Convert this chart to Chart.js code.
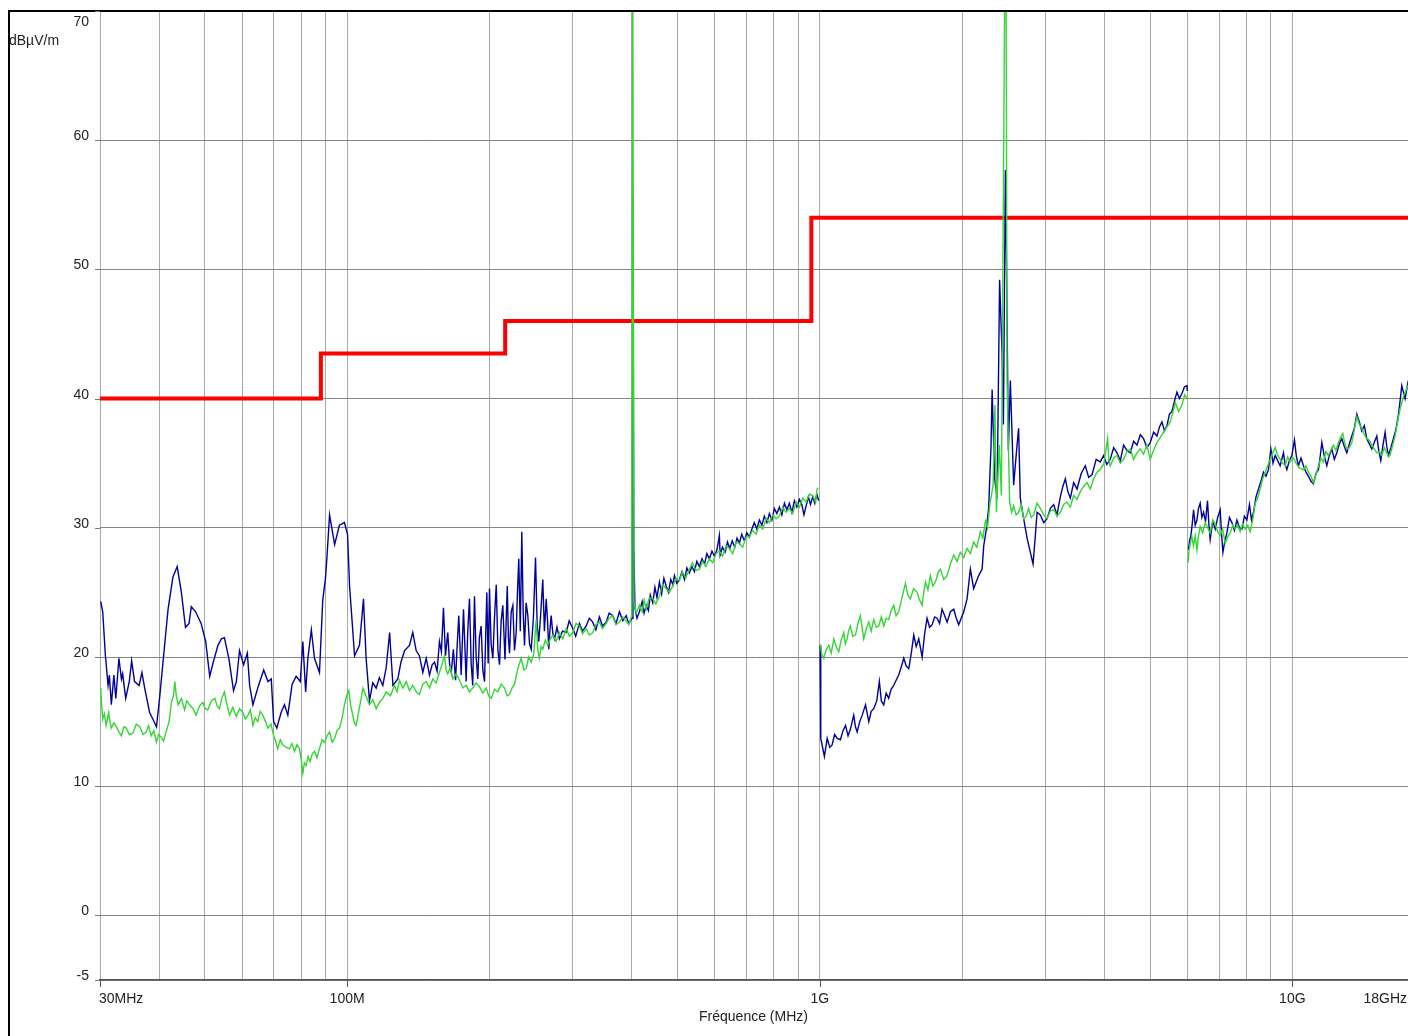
<!DOCTYPE html>
<html>
<head>
<meta charset="utf-8">
<title>Emission rayonnée</title>
<script src="https://cdn.jsdelivr.net/npm/chart.js@4.4.1/dist/chart.umd.min.js"></script>
<style>
  html, body { margin: 0; padding: 0; background: #fff; overflow: hidden; }
  #wrap { width: 1416px; height: 1036px; }
</style>
</head>
<body>
<div id="wrap"><canvas id="emiChart" width="1416" height="1036"></canvas></div>
<script>
// axes
const yTicks = [-5, 0, 10, 20, 30, 40, 50, 60, 70];
const xGrid = [30, 40, 50, 60, 70, 80, 90, 100, 200, 300, 400, 500, 600, 700, 800, 900,
  1000, 2000, 3000, 4000, 5000, 6000, 7000, 8000, 9000, 10000];
const xLabelValues = [30, 100, 1000, 10000, 18000];
const xLabelTexts = ["30MHz", "100M", "1G", "10G", "18GHz"];

// limite (dBµV/m)
const limitFreq = [30, 88, 216, 960, 18000];
const limitDb = [40, 43.5, 46, 54, 54];

// trace bleue, 30 MHz - 1 GHz
const blueFreqA = [30.1,30.4,30.8,31.2,31.4,31.7,32.1,32.4,32.9,33.3,
  33.5,34.0,34.6,35.0,35.5,36.3,36.8,37.3,38.2,38.8,
  39.5,40.1,40.9,41.8,42.8,43.7,44.6,45.5,46.3,46.8,
  47.8,49.1,50.2,51.2,52.0,53.3,54.2,55.0,56.2,57.5,
  58.3,59.2,60.4,61.5,62.2,63.2,64.7,66.6,68.0,69.1,
  69.9,71.0,72.5,73.7,74.9,76.5,78.0,79.6,80.6,81.7,
  82.6,84.0,85.3,87.4,88.8,90.0,90.6,91.8,94.1,96.3,
  98.7,100.2,101.2,103.7,106.2,108.3,109.7,111.5,113.3,115.2,
  117.0,119.0,121.0,123.0,125.0,128.0,130.0,132.3,135.5,137.7,
  140.0,142.2,144.6,147.0,149.4,151.3,153.1,155.0,156.8,158.3,
  159.9,161.5,163.3,164.7,166.1,167.8,169.6,171.0,172.3,174.3,
  176.3,178.6,180.0,181.5,183.0,184.4,186.0,187.5,189.0,190.5,
  192.1,193.7,195.3,197.5,198.8,200.1,201.7,203.4,205.0,206.8,
  208.5,210.1,211.8,213.5,215.8,218.2,219.4,220.6,222.4,224.2,
  226.0,227.9,229.3,230.8,232.5,234.2,235.8,237.3,239.2,241.2,
  243.2,245.2,247.8,250.4,252.4,254.4,257.0,259.4,261.5,263.8,
  265.5,267.1,268.5,270.2,272.5,274.7,278.0,281.3,285.5,290.8,
  295.0,300.3,304.5,310.1,314.8,320.5,325.5,330.9,336.0,341.8,
  347.0,353.3,358.5,364.8,370.5,376.9,383.0,389.4,394.0,399.0,
  401.0,402.5,404.1,406.5,410.5,415.4,421.0,425.0,429.3,434.0,
  438.0,443.3,448.0,452.5,457.9,463.0,468.0,473.2,478.5,484.0,
  489.0,492.7,498.5,504.7,511.0,517.5,523.5,529.9,536.5,543.0,
  549.5,556.4,563.5,570.5,577.0,584.1,591.5,598.5,606.0,613.3,
  615.5,622.5,630.5,638.0,645.0,653.0,661.0,668.5,676.0,684.0,
  692.5,701.0,709.8,718.5,727.0,736.0,745.2,754.5,763.5,773.0,
  782.4,792.0,801.5,811.5,821.5,831.5,842.0,852.0,862.5,873.0,
  884.0,894.5,905.6,916.5,926.0,935.9,946.0,956.0,966.4,976.5,
  986.0,995];
const blueDbA = [24.3,23.5,20.1,17.8,18.6,16.3,18.6,16.8,19.9,18.3,
  18.7,16.8,18.1,19.7,18.1,17.8,18.8,17.6,15.7,15.2,
  14.6,16.8,20.1,23.7,26.2,27.0,25.0,22.3,22.6,23.9,
  23.5,22.6,21.2,18.5,19.5,20.9,21.4,21.5,19.9,17.4,
  18.1,20.5,19.4,20.3,17.8,16.3,17.6,19.0,18.1,18.3,
  15.0,14.5,15.7,16.3,15.5,17.9,18.5,18.1,21.2,17.3,
  19.9,22.1,19.9,18.8,24.4,26.1,27.6,31.0,28.7,30.2,
  30.4,29.5,25.5,20.1,20.9,24.5,19.9,16.6,18.0,17.6,
  18.4,17.8,19.2,21.9,17.8,18.3,19.6,20.5,20.9,21.9,
  20.5,20.1,18.8,19.9,18.6,19.4,19.6,18.9,21.2,20.4,
  23.8,20.1,21.9,19.5,18.8,20.6,18.2,21.0,23.2,18.6,
  23.7,18.1,22.0,24.5,19.5,17.8,24.7,20.0,18.3,21.5,
  22.4,19.0,18.1,25.0,19.5,25.3,21.0,19.9,23.0,25.6,
  20.5,19.4,22.8,24.0,19.8,25.5,21.5,20.3,23.5,24.0,
  20.5,21.9,25.0,27.6,22.0,29.7,23.5,20.9,24.2,23.2,
  21.0,20.6,23.0,27.7,22.5,21.2,23.5,26.0,22.0,24.5,
  22.8,20.6,22.0,23.2,21.8,21.4,22.3,21.4,22.0,21.9,
  22.8,22.2,21.6,22.6,22.0,22.4,23.0,22.7,22.1,23.1,
  22.4,22.7,23.4,23.2,22.6,23.5,22.8,23.2,22.6,22.9,
  23.0,55.5,28.6,23.8,23.0,23.5,24.3,23.4,24.0,23.6,
  24.8,24.2,25.4,24.6,25.8,24.9,26.1,25.5,25.0,26.0,
  25.6,26.3,25.7,26.0,26.6,26.0,26.9,26.5,27.0,26.6,
  27.4,27.0,27.6,27.2,28.0,27.6,28.2,27.8,28.3,29.4,
  27.9,28.5,28.1,28.9,28.4,29.0,28.5,29.2,28.8,29.5,
  29.0,29.6,29.3,29.9,30.4,29.9,30.6,30.2,30.9,30.4,
  31.1,30.6,31.5,31.1,31.6,31.0,31.9,31.4,31.9,31.2,
  32.1,31.6,32.2,31.8,31.0,31.7,32.4,31.8,32.4,31.9,
  32.6,32.1];

// trace verte, 30 MHz - 1 GHz
const greenFreqA = [30.1,30.25,30.4,30.65,30.9,31.1,31.3,31.5,31.7,32.1,
  32.5,32.9,33.3,33.7,34.1,34.6,35.2,35.8,36.4,37.0,
  37.6,38.0,38.5,39.0,39.5,39.9,40.4,40.9,41.4,42.0,
  42.5,42.9,43.2,43.5,43.9,44.6,45.3,45.8,46.4,47.2,
  47.9,48.7,49.5,50.1,50.7,51.6,52.5,53.1,53.7,54.3,
  55.0,55.7,56.4,57.3,58.3,59.2,60.2,60.9,61.7,62.4,
  63.2,63.9,64.7,65.5,66.3,67.2,68.0,69.0,69.9,70.6,
  71.3,72.2,73.1,74.3,75.5,76.4,77.4,78.3,79.3,80.0,
  80.6,81.2,81.9,82.7,83.5,84.4,85.3,86.3,87.4,88.5,
  89.6,90.7,91.8,93.0,94.1,95.2,96.3,97.5,98.7,99.8,
  100.8,101.8,102.8,103.6,104.5,105.8,107.1,108.0,108.8,110.1,
  111.5,113.3,115.2,117.1,119.0,121.0,123.5,126.0,127.5,129.1,
  131.2,133.4,135.5,137.7,140.0,142.2,144.6,147.0,149.4,151.8,
  154.3,156.8,158.7,160.7,162.0,163.3,165.3,167.4,170.1,172.9,
  175.7,178.6,181.5,184.4,187.4,190.5,193.7,196.9,199.3,201.8,
  205.1,208.4,211.8,215.3,218.0,220.6,223.3,226.1,227.9,229.7,
  231.6,233.5,236.4,239.3,242.2,245.2,248.2,251.2,253.2,255.2,
  257.3,259.4,262.6,265.8,269.1,272.4,276.8,281.3,286.0,290.8,
  295.5,300.3,305.0,310.1,315.0,320.5,325.5,330.9,336.0,341.8,
  347.0,353.3,358.5,364.8,370.5,376.9,383.0,389.4,394.5,400.2,
  402.1,404.5,409.0,415.4,421.0,425.0,429.3,436.0,443.3,450.0,
  457.9,465.0,473.2,480.5,488.7,496.5,504.7,512.0,520.5,529.9,
  538.0,547.0,556.4,565.0,574.5,584.1,593.5,603.0,613.3,623.0,
  633.5,643.9,654.5,665.0,676.0,687.0,698.5,709.8,721.0,733.0,
  745.2,757.5,770.0,782.4,795.5,808.5,821.5,835.0,848.5,862.5,
  876.5,891.0,905.6,920.5,935.9,951.0,966.4,980.0,987.0,993];
const greenDbA = [17.6,16.2,15.2,15.6,14.7,15.2,15.7,15.0,14.5,14.9,
  14.6,14.2,13.9,14.6,14.5,14.0,14.1,14.8,14.6,14.0,
  14.2,14.7,13.9,14.3,13.4,14.0,13.8,13.5,14.2,15.0,
  16.5,17.0,18.1,17.0,16.3,16.8,15.9,16.6,16.3,16.0,
  15.5,16.2,16.5,16.0,15.9,16.6,16.8,16.2,16.0,16.8,
  17.3,16.3,15.5,16.1,15.4,16.0,15.7,15.2,15.5,15.9,
  14.7,15.3,15.0,15.8,15.5,15.0,14.5,14.8,13.9,13.5,
  12.9,13.6,13.2,13.0,12.9,13.3,12.7,13.2,12.9,12.0,
  11.0,11.8,11.6,12.3,11.9,12.5,12.7,12.2,12.9,13.6,
  13.4,13.9,14.2,13.4,13.7,14.3,14.5,15.2,16.3,17.0,
  17.4,16.2,15.5,14.9,14.7,15.8,16.8,17.6,17.3,16.8,
  16.3,16.7,16.0,16.5,16.8,17.3,17.0,17.8,17.3,18.2,
  17.6,18.1,17.4,17.8,17.3,17.1,17.9,18.1,17.6,18.3,
  18.0,18.8,19.4,20.1,19.0,18.7,19.2,18.3,18.7,18.2,
  17.6,17.8,17.3,17.6,18.0,17.7,17.2,17.6,17.0,16.8,
  17.5,17.3,17.9,17.6,17.0,17.1,17.6,17.9,18.5,19.1,
  19.5,19.9,19.0,19.1,20.0,19.6,20.2,22.9,20.5,19.9,
  20.8,20.6,21.3,20.9,21.4,21.7,21.2,21.9,21.4,22.2,
  21.6,21.9,22.6,22.4,21.8,22.2,21.7,21.9,22.5,22.7,
  22.2,22.6,23.0,23.2,22.5,22.7,23.1,22.8,22.5,23.2,
  75,24.3,23.4,24.0,23.5,24.4,23.7,24.6,24.5,24.1,
  24.7,25.6,25.3,25.0,25.5,26.1,25.9,26.6,26.1,26.8,
  27.3,26.7,26.8,27.4,27.0,27.6,27.3,28.0,28.2,27.8,
  28.6,28.4,28.0,28.9,28.8,28.5,29.3,29.3,29.8,29.5,
  30.2,29.9,30.7,30.4,31.0,30.7,30.9,31.6,31.2,31.5,
  31.1,32.0,31.6,32.3,32.0,32.6,32.5,32.0,33.0,33.1];

// 1 GHz - 6 GHz
const blueFreqB = [1002,1005,1023,1037,1050,1062,1075,1089,1106,1120,
  1134,1148,1161,1180,1190,1200,1215,1230,1250,1270,
  1285,1301,1320,1337,1350,1366,1382,1399,1416,1434,
  1451,1469,1487,1506,1524,1543,1562,1581,1600,1620,
  1647,1667,1687,1708,1729,1750,1771,1793,1815,1838,
  1860,1890,1921,1945,1968,1992,2017,2050,2083,2117,
  2169,2206,2223,2252,2277,2304,2316,2345,2373,2402,
  2431,2447,2471,2485,2507,2531,2572,2615,2635,2657,
  2701,2746,2790,2827,2859,2883,2929,2978,3027,3076,
  3126,3177,3229,3269,3309,3350,3390,3446,3503,3575,
  3647,3707,3768,3845,3923,3987,4050,4118,4187,4256,
  4325,4395,4467,4540,4615,4691,4767,4844,4924,5004,
  5087,5170,5234,5298,5363,5428,5495,5562,5630,5699,
  5770,5840,5910,5983,5995];
const blueDbB = [20.9,13.7,12.3,13.7,13.0,13.2,14.0,13.7,13.6,14.3,
  14.7,13.9,14.4,15.5,14.6,14.2,15.0,15.5,16.3,15.0,
  15.8,16.0,16.6,18.1,16.6,16.3,17.2,16.8,17.5,17.8,
  18.2,18.6,19.2,19.9,19.3,19.1,20.3,21.7,20.8,21.4,
  20.0,21.8,23.0,22.3,22.5,23.1,23.0,22.6,23.7,23.2,
  22.7,23.5,23.7,23.0,22.5,23.0,23.5,24.5,26.8,25.3,
  26.3,26.8,28.6,29.9,31.5,36.4,40.7,33.8,32.3,49.2,
  43.5,38.0,57.7,50.0,36.0,41.4,33.3,36.4,37.7,32.3,
  30.7,29.2,28.1,27.2,29.4,31.2,31.0,30.4,30.7,31.5,
  31.8,31.0,32.4,33.2,33.8,32.8,32.3,33.5,33.0,34.2,
  34.8,33.9,34.1,35.3,35.1,35.6,34.9,35.3,36.2,35.8,
  35.2,36.4,36.0,35.8,36.7,36.4,37.2,36.9,36.2,36.6,
  37.4,37.1,37.8,38.2,37.5,37.9,38.8,39.0,39.8,40.5,
  40.0,40.4,40.9,41.0,40.6];
const greenFreqB = [1002,1010,1020,1032,1045,1058,1071,1084,1097,1110,
  1124,1133,1143,1152,1161,1175,1190,1205,1219,1229,
  1239,1255,1270,1285,1301,1317,1333,1350,1366,1382,
  1399,1416,1434,1451,1469,1493,1518,1536,1555,1580,
  1607,1627,1647,1660,1674,1694,1714,1735,1757,1778,
  1800,1830,1860,1890,1921,1952,1984,2017,2050,2083,
  2117,2150,2187,2214,2241,2265,2288,2327,2348,2365,
  2398,2423,2466,2478,2491,2522,2547,2572,2603,2635,
  2668,2701,2734,2767,2801,2836,2882,2929,2978,3027,
  3076,3126,3177,3229,3282,3336,3390,3445,3502,3559,
  3618,3677,3737,3798,3860,3923,3994,4065,4090,4118,
  4187,4256,4325,4395,4467,4540,4614,4690,4766,4845,
  4925,5004,5087,5170,5255,5340,5427,5515,5583,5652,
  5745,5840,5915,5990];
const greenDbB = [21.0,20.2,19.9,20.6,20.9,20.3,21.4,20.8,20.4,21.3,
  21.9,21.0,21.4,22.1,22.4,21.6,21.7,22.6,23.2,22.3,
  21.4,22.2,22.7,22.0,22.9,22.3,22.4,23.1,22.4,23.0,
  22.9,23.6,24.0,23.2,23.5,24.6,25.7,24.8,24.5,25.3,
  25.0,24.4,24.0,25.0,25.8,25.2,26.3,25.5,25.8,26.5,
  26.8,26.0,26.3,27.2,27.9,27.4,28.1,27.7,28.4,28.0,
  28.9,28.5,29.7,29.2,30.5,30.0,31.7,33.3,39.5,31.2,
  36.4,32.5,75,75,41.3,32.0,31.2,31.7,31.0,31.2,
  31.8,30.7,30.9,31.5,30.8,31.0,31.9,31.5,31.0,30.7,
  31.3,31.4,30.9,31.2,31.8,32.0,31.6,32.5,32.2,32.8,
  33.2,33.5,33.0,33.8,34.3,34.5,35.0,36.9,35.2,34.8,
  35.4,35.6,35.0,35.3,35.9,36.1,35.3,35.8,36.1,35.7,
  36.4,35.3,36.0,36.6,37.0,37.4,37.8,38.2,38.9,39.7,
  39.0,39.5,40.3,40.0];

// 6 GHz - 18 GHz
const blueFreqC = [6028,6060,6101,6140,6179,6230,6282,6330,6383,6435,
  6488,6550,6614,6655,6701,6785,6868,6950,7036,7083,
  7130,7200,7270,7360,7449,7540,7633,7727,7821,7917,
  8013,8114,8195,8276,8377,8478,8583,8688,8795,8901,
  9006,9100,9198,9310,9422,9577,9655,9736,9856,9976,
  10104,10200,10301,10430,10556,10685,10814,10950,11083,11220,
  11354,11450,11545,11690,11829,11975,12121,12270,12420,12570,
  12725,12880,13039,13200,13360,13525,13690,13860,14027,14200,
  14372,14550,14726,14905,15089,15235,15385,15550,15713,15840,
  15965,16160,16361,16560,16761,16900,17043,17180,17320,17572,
  18000];
const blueDbC = [28.3,29.0,29.4,30.3,31.4,30.2,30.6,31.5,31.9,30.8,
  31.2,30.5,32.1,30.4,29.1,30.5,29.9,30.8,31.4,29.5,
  28.1,29.0,29.6,30.8,30.4,29.8,30.6,30.0,29.9,30.9,
  30.6,31.8,30.6,31.2,32.4,33.0,33.6,34.3,34.0,34.5,
  36.1,35.0,35.6,35.2,34.8,35.8,34.9,34.5,35.2,35.6,
  36.8,35.5,34.8,35.4,34.8,34.3,34.0,33.6,33.4,34.2,
  34.5,35.5,36.6,35.5,34.8,35.6,36.1,35.3,35.8,36.5,
  36.9,36.3,35.8,36.5,37.1,37.7,38.8,38.2,37.5,37.9,
  36.9,36.5,36.1,36.6,37.1,36.0,35.2,36.4,37.4,36.3,
  35.6,36.2,36.9,37.6,38.7,39.8,41.0,40.5,40.0,41.3,
  41.0];
const greenFreqC = [6015,6045,6080,6130,6179,6230,6282,6330,6383,6460,
  6541,6620,6701,6785,6868,6950,7036,7120,7210,7298,
  7386,7478,7570,7662,7755,7850,7948,8045,8142,8243,
  8344,8446,8548,8655,8761,8868,8975,9086,9198,9310,
  9422,9540,9657,9775,9892,10057,10222,10390,10556,10685,
  10814,10950,11083,11220,11354,11495,11636,11778,11920,12068,
  12216,12365,12515,12650,12788,12913,13039,13200,13360,13525,
  13690,13860,14027,14200,14372,14550,14726,14905,15089,15275,
  15461,15650,15843,15970,16097,16300,16497,16700,16900,17236,
  17572,18000];
const greenDbC = [27.3,28.2,28.8,29.3,28.6,29.4,28.3,29.4,30.1,29.6,
  30.4,30.0,29.6,30.6,30.3,29.7,29.4,29.9,28.8,29.3,
  29.6,30.2,29.9,30.2,29.7,30.3,29.9,30.2,29.7,30.6,
  31.9,32.3,33.0,33.8,34.3,34.8,35.3,35.8,36.2,35.6,
  35.3,35.0,34.8,35.5,35.1,35.4,34.9,34.6,34.5,34.8,
  34.3,34.0,33.5,34.1,34.8,35.4,35.1,35.9,35.6,36.0,
  36.4,36.0,36.6,37.0,37.3,36.5,36.1,36.2,36.6,37.6,
  38.6,38.0,37.7,37.2,36.9,36.8,36.4,36.1,35.8,35.9,
  35.6,36.2,35.8,35.5,35.6,36.4,37.1,38.2,39.2,40.3,
  41.0,41.3];

// joins the bands, with a gap between them
function joinBands(bands) {
  const pts = [];
  bands.forEach(([freqs, levels], i) => {
    if (i > 0) {
      const prev = pts[pts.length - 1].x;
      pts.push({ x: Math.sqrt(prev * freqs[0]), y: null });
    }
    freqs.forEach((f, k) => pts.push({ x: f, y: levels[k] }));
  });
  return pts;
}

const textFont = '14px "Liberation Sans", Arial, sans-serif';
const textColor = "#222";

const axisText = {
  id: "axisText",
  afterDraw(chart) {
    const { ctx, chartArea, scales } = chart;
    const x = scales.x, y = scales.y;
    ctx.save();

    // cadre
    ctx.strokeStyle = "#000";
    ctx.lineWidth = 2;
    ctx.beginPath();
    ctx.moveTo(9, chart.height + 2);
    ctx.lineTo(9, 11);
    ctx.lineTo(chart.width + 2, 11);
    ctx.stroke();

    ctx.font = textFont;
    ctx.fillStyle = textColor;

    // axe Y
    ctx.strokeStyle = "#777";
    ctx.lineWidth = 1;
    ctx.textAlign = "right";
    ctx.textBaseline = "alphabetic";
    yTicks.forEach((v) => {
      const py = Math.round(y.getPixelForValue(v)) + 0.5;
      ctx.beginPath();
      ctx.moveTo(95, py);
      ctx.lineTo(chartArea.left, py);
      ctx.stroke();
      const base = v === yTicks[yTicks.length - 1] ? py + 14 : py - 1;
      ctx.fillText(String(v), 89, base);
    });
    ctx.textAlign = "left";
    ctx.fillText("dBµV/m", 9, 45);

    // axe X
    ctx.strokeStyle = "#555";
    xLabelValues.forEach((v, i) => {
      const px = x.getPixelForValue(v);
      let align = "center";
      let tx = px;
      if (i === 0) { align = "left"; tx = px - 1; }
      if (i === xLabelValues.length - 1) { align = "right"; tx = px - 6; }
      else {
        ctx.beginPath();
        ctx.moveTo(Math.round(px) + 0.5, chartArea.bottom);
        ctx.lineTo(Math.round(px) + 0.5, chartArea.bottom + 7);
        ctx.stroke();
      }
      ctx.textAlign = align;
      ctx.fillText(xLabelTexts[i], tx, 1003);
    });
    ctx.textAlign = "center";
    ctx.fillText("Fréquence (MHz)", 753.5, 1021);
    ctx.restore();
  },
};

const ctx = document.getElementById("emiChart").getContext("2d");
new Chart(ctx, {
  type: "line",
  data: {
    datasets: [
      {
        label: "vert",
        data: joinBands([[greenFreqA, greenDbA], [greenFreqB, greenDbB], [greenFreqC, greenDbC]]),
        borderColor: "#33d633",
        borderWidth: 1.4,
        pointRadius: 0,
        tension: 0,
      },
      {
        label: "bleu",
        data: joinBands([[blueFreqA, blueDbA], [blueFreqB, blueDbB], [blueFreqC, blueDbC]]),
        borderColor: "#00009a",
        borderWidth: 1.4,
        pointRadius: 0,
        tension: 0,
      },
      {
        label: "limite",
        data: limitFreq.map((f, i) => ({ x: f, y: limitDb[i] })),
        borderColor: "#ff0000",
        borderWidth: 4,
        pointRadius: 0,
        stepped: true,
      },
    ],
  },
  options: {
    responsive: false,
    animation: false,
    spanGaps: false,
    layout: { padding: { left: 100, right: 3, top: 11, bottom: 56 } },
    plugins: { legend: { display: false }, tooltip: { enabled: false } },
    scales: {
      x: {
        type: "logarithmic",
        min: 30,
        max: 18000,
        afterBuildTicks: (scale) => {
          scale.ticks = xGrid.map((v) => ({ value: v }));
        },
        ticks: { display: false },
        grid: { color: "#a8a8a8", lineWidth: 1, drawTicks: false },
        border: { display: true, color: "#555", width: 1.5 },
      },
      y: {
        min: -5,
        max: 70,
        afterBuildTicks: (scale) => {
          scale.ticks = yTicks.map((v) => ({ value: v }));
        },
        ticks: { display: false },
        grid: { color: "#858585", lineWidth: 1, drawTicks: false },
        border: { display: false },
      },
    },
  },
  plugins: [axisText],
});
</script>
</body>
</html>
